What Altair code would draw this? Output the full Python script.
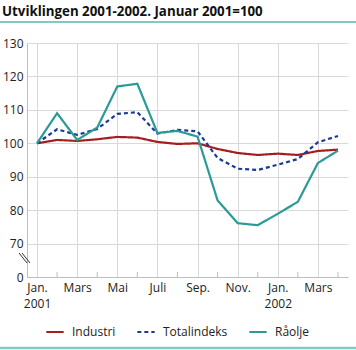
import altair as alt
import pandas as pd

# ---- data ----
month_index = list(range(16))  # Jan 2001 .. Apr 2002
industri = [100.0, 101.0, 100.7, 101.2, 101.9, 101.7, 100.4, 99.8,
            100.0, 98.3, 97.1, 96.5, 96.9, 96.5, 97.7, 98.1]
totalindeks = [100.0, 104.2, 102.5, 104.3, 108.8, 109.3, 102.9, 104.0,
               103.6, 95.6, 92.4, 92.0, 93.6, 95.3, 100.3, 102.2]
raolje = [100.0, 109.0, 101.0, 104.7, 117.0, 117.8, 103.1, 103.7,
          102.0, 82.9, 76.1, 75.5, 78.9, 82.5, 94.1, 97.8]
series_names = ["Industri", "Totalindeks", "Råolje"]
series_colors = ["#a51d1d", "#1b3a96", "#2a9a96"]
series_dash = [[1, 0], [4, 3], [1, 0]]

x_tick_values = [0, 2, 4, 6, 8, 10, 12, 14]
x_tick_labels = [["Jan.", "2001"], "Mars", "Mai", "Juli", "Sep.", "Nov.", ["Jan.", "2002"], "Mars"]
minor_ticks = [1, 3, 5, 7, 9, 11, 13, 15]
y_tick_values = [60, 70, 80, 90, 100, 110, 120, 130]
y_tick_labels = ["0", "70", "80", "90", "100", "110", "120", "130"]

title_text = "Utviklingen 2001-2002. Januar 2001=100"
FONT = "Open Sans"

rows = []
for name, vals in zip(series_names, [industri, totalindeks, raolje]):
    for m, v in zip(month_index, vals):
        rows.append({"m": m, "v": v, "serie": name})
df = pd.DataFrame(rows)


def to_js(lbl):
    if isinstance(lbl, list):
        return "[" + ",".join("'" + s + "'" for s in lbl) + "]"
    return "'" + lbl + "'"


x_expr = "".join(
    f"datum.value == {v} ? {to_js(l)} : " for v, l in zip(x_tick_values, x_tick_labels)
) + "''"
y_expr = "".join(
    f"datum.value == {v} ? '{l}' : " for v, l in zip(y_tick_values, y_tick_labels)
) + "''"

W, H = 321, 234

x_scale = alt.Scale(domain=[-0.5, 15.5], nice=False, zero=False)
y_scale = alt.Scale(domain=[60, 130], nice=False, zero=False)

lines = alt.Chart(df).mark_line(strokeWidth=2.2).encode(
    x=alt.X("m:Q", scale=x_scale, title=None,
            axis=alt.Axis(values=x_tick_values, labelExpr=x_expr, grid=True,
                          ticks=False, domain=True, domainColor="#bdbdbd",
                          gridColor="#d9d9d9", labelFont=FONT, labelFontSize=12,
                          labelColor="#222222", labelPadding=5,
                          labelLineHeight=16, labelFlush=False)),
    y=alt.Y("v:Q", scale=y_scale, title=None,
            axis=alt.Axis(values=y_tick_values, labelExpr=y_expr, grid=True,
                          ticks=False, domain=True, domainColor="#bdbdbd",
                          gridColor="#d9d9d9", labelFont=FONT, labelFontSize=12,
                          labelColor="#222222", labelPadding=4)),
    color=alt.Color("serie:N",
                    scale=alt.Scale(domain=series_names, range=series_colors),
                    legend=alt.Legend(title=None, orient="none", direction="horizontal",
                                      legendX=18, legendY=279, symbolType="stroke",
                                      symbolSize=300, symbolStrokeWidth=2.2,
                                      labelFont=FONT, labelFontSize=12,
                                      labelColor="#222222", columnPadding=16,
                                      labelOffset=7)),
    strokeDash=alt.StrokeDash("serie:N",
                              scale=alt.Scale(domain=series_names, range=series_dash),
                              legend=None),
    order=alt.Order("m:Q"),
)

minor = alt.Chart(pd.DataFrame({"m": minor_ticks})).mark_rule(
    color="#bdbdbd", strokeWidth=1
).encode(x=alt.X("m:Q", scale=x_scale), y=alt.value(H - 5), y2=alt.value(H))

deco = pd.DataFrame({"a": [0]})
brk1 = alt.Chart(deco).mark_rule(color="#333333", strokeWidth=1).encode(
    x=alt.value(-8), y=alt.value(210), x2=alt.value(0), y2=alt.value(220))
brk2 = alt.Chart(deco).mark_rule(color="#333333", strokeWidth=1).encode(
    x=alt.value(-5), y=alt.value(210), x2=alt.value(3), y2=alt.value(220))

title = alt.Chart(deco).mark_text(
    text=title_text, font=FONT, fontSize=13.3, fontWeight="bold",
    align="left", baseline="alphabetic", color="#111111"
).encode(x=alt.value(-25), y=alt.value(-27))

top_line = alt.Chart(deco).mark_rule(color="#80c9c5", strokeWidth=2).encode(
    x=alt.value(-27), x2=alt.value(329), y=alt.value(-21))
bottom_line = alt.Chart(deco).mark_rule(color="#80c9c5", strokeWidth=2.5).encode(
    x=alt.value(-27), x2=alt.value(329), y=alt.value(305))

chart = alt.layer(lines, minor, brk1, brk2, title, top_line, bottom_line).properties(
    width=W, height=H,
    autosize=alt.AutoSizeParams(type="none"),
    padding={"left": 27, "top": 43, "right": 8, "bottom": 73},
    background="white",
).configure_view(stroke=None)

chart.save("out.html", embed_options={"renderer": "svg", "actions": False})
